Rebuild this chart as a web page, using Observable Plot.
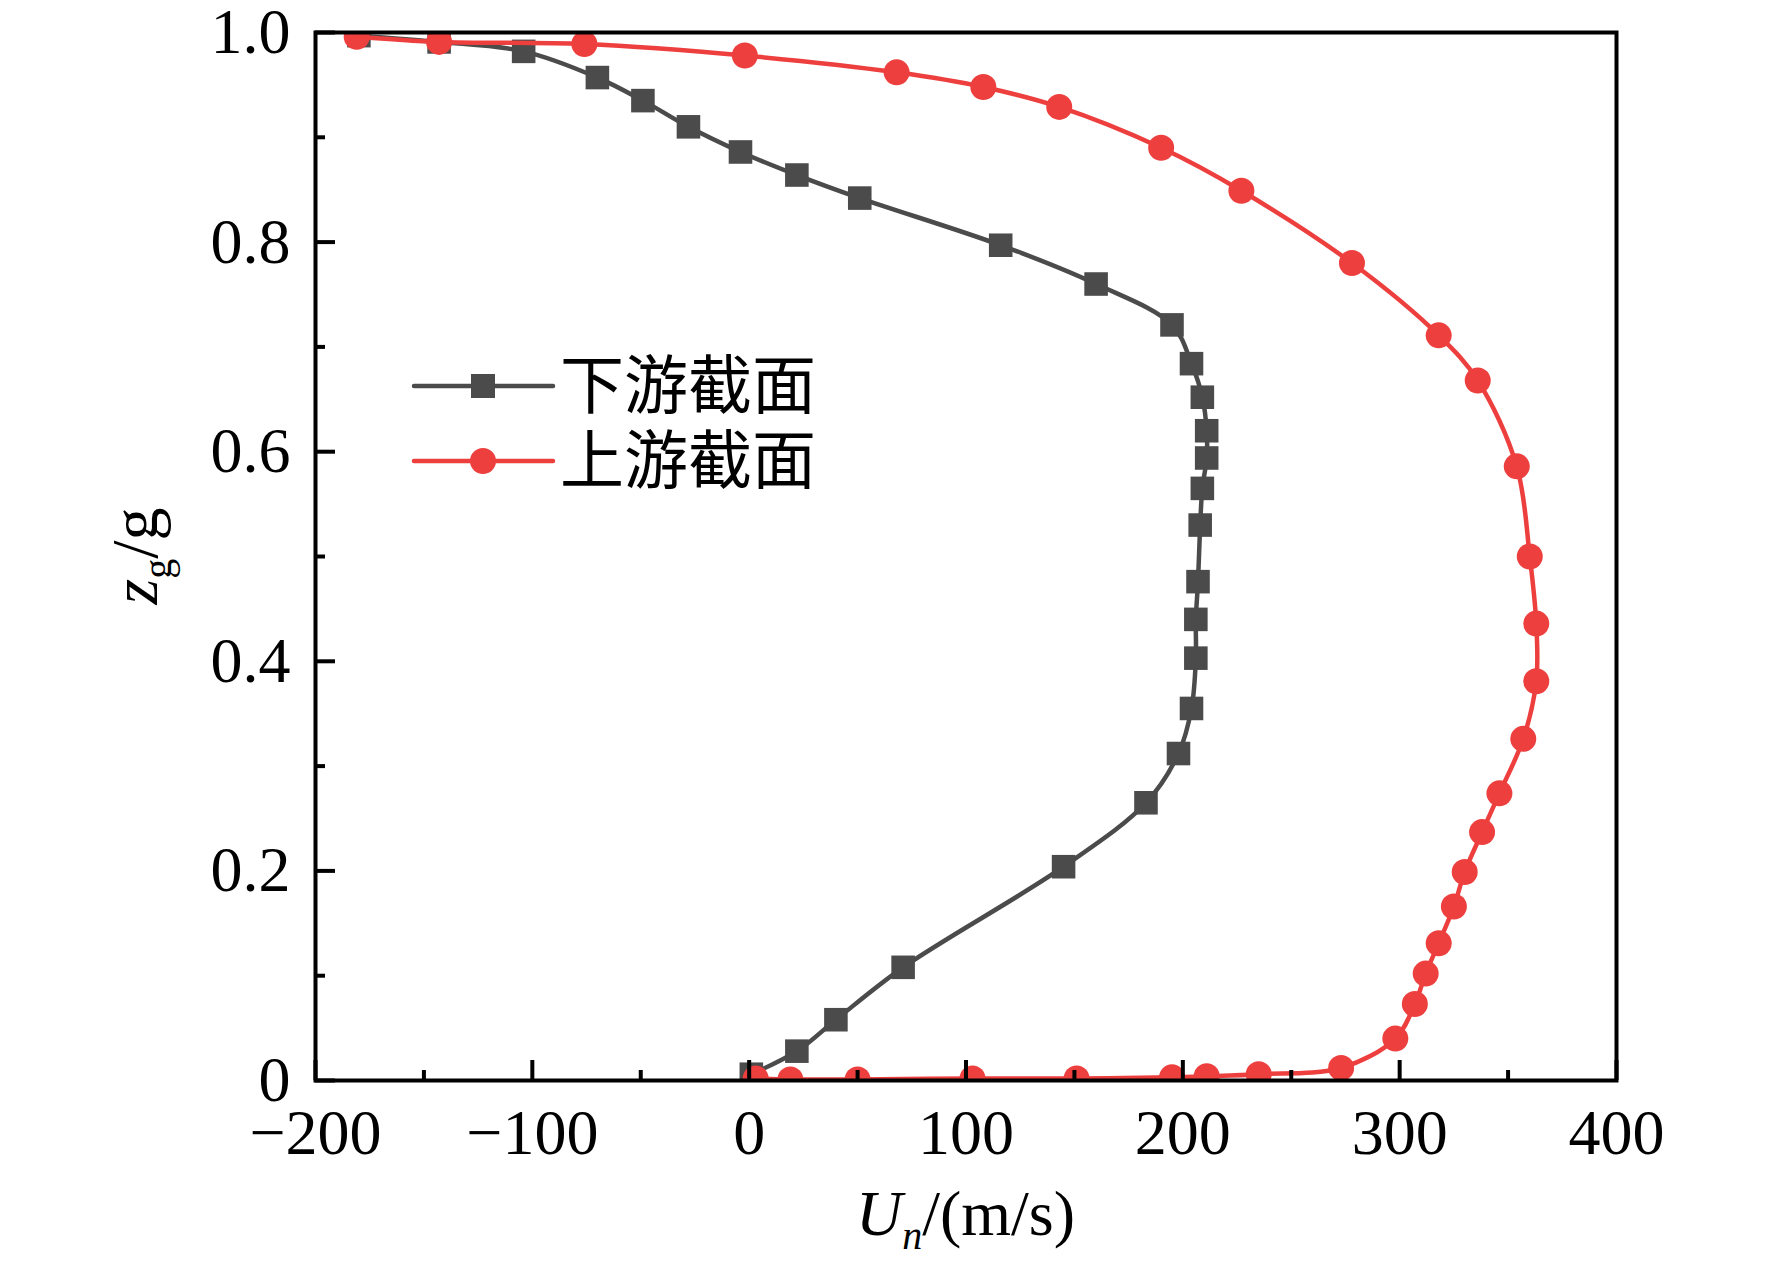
<!DOCTYPE html>
<html><head><meta charset="utf-8">
<script src="https://cdn.jsdelivr.net/npm/d3@7"></script>
<script src="https://cdn.jsdelivr.net/npm/@observablehq/plot@0.6"></script>
<style>html,body{margin:0;padding:0;background:#fff;overflow:hidden}</style>
</head><body><div id="chart"></div>
<script>
// ---- data ----
const seriesNames = ["下游截面", "上游截面"];
const seriesColors = ["#4b4b4b", "#ee3f3f"];

// 下游截面 (squares)
const downU = [-180, -143, -104, -70, -49, -28, -4, 22, 51, 116, 160, 195, 204, 209, 211, 211, 209, 208, 207, 206, 206, 204, 198, 183, 145, 71, 40, 22, 1];
const downZ = [0.997, 0.991, 0.982, 0.957, 0.935, 0.910, 0.886, 0.864, 0.842, 0.797, 0.760, 0.721, 0.684, 0.652, 0.620, 0.594, 0.565, 0.530, 0.476, 0.440, 0.403, 0.355, 0.312, 0.265, 0.204, 0.108, 0.058, 0.028, 0.006];

// 上游截面 (circles)
const upU = [-181, -143, -76, -2, 68, 108, 143, 190, 227, 278, 318, 336, 354, 360, 363, 363, 357, 346, 338, 330, 325, 318, 312, 307, 298, 273, 235, 211, 195, 151, 103, 50, 19, 3];
const upZ = [0.996, 0.991, 0.989, 0.978, 0.962, 0.948, 0.929, 0.890, 0.849, 0.780, 0.711, 0.668, 0.586, 0.500, 0.436, 0.381, 0.326, 0.274, 0.237, 0.199, 0.166, 0.131, 0.102, 0.073, 0.040, 0.012, 0.006, 0.004, 0.003, 0.002, 0.002, 0.001, 0.001, 0.002];

const xDomain = [-200, 400];
const yDomain = [0, 1];
const xMajor = [-200, -100, 0, 100, 200, 300, 400];
const xMajorLabels = ["−200", "−100", "0", "100", "200", "300", "400"];
const xMinor = [-150, -50, 50, 150, 250, 350];
const yMajor = [0, 0.2, 0.4, 0.6, 0.8, 1.0];
const yMajorLabels = ["0", "0.2", "0.4", "0.6", "0.8", "1.0"];
const yMinor = [0.1, 0.3, 0.5, 0.7, 0.9];

const downRows = downU.map((u, i) => ({u, z: downZ[i]}));
const upRows = upU.map((u, i) => ({u, z: upZ[i]}));

// ---- layout ----
const W = 1772, H = 1268;
const mL = 315, mR = 156, mT = 32, mB = 188;
const FONT = "'Liberation Serif', 'Times New Roman', 'Noto Sans CJK SC', serif";

const plot = Plot.plot({
  width: W, height: H,
  marginLeft: mL, marginRight: mR, marginTop: mT, marginBottom: mB,
  style: {fontFamily: FONT, fontSize: "64px", background: "#fff", color: "#000", overflow: "visible"},
  x: {domain: xDomain, label: null},
  y: {domain: yDomain, label: null},
  marks: [
    Plot.line(downRows, {x: "u", y: "z", stroke: seriesColors[0], strokeWidth: 4.5, curve: "catmull-rom", clip: true}),
    Plot.dot(downRows, {x: "u", y: "z", symbol: "square", r: 13.3, fill: seriesColors[0], stroke: "none", clip: true}),
    Plot.line(upRows, {x: "u", y: "z", stroke: seriesColors[1], strokeWidth: 4.5, curve: "catmull-rom", clip: true}),
    Plot.dot(upRows, {x: "u", y: "z", symbol: "circle", r: 13, fill: seriesColors[1], stroke: "none", clip: true}),
    Plot.axisX({ticks: xMajor, tickSize: -20, tickPadding: 48, strokeWidth: 4, fontSize: 64, label: null,
      tickFormat: d => xMajorLabels[xMajor.indexOf(d)]}),
    Plot.axisX({ticks: xMinor, tickSize: -10, tickPadding: 0, strokeWidth: 4, label: null, tickFormat: () => ""}),
    Plot.axisY({ticks: yMajor, tickSize: -20, tickPadding: 45, strokeWidth: 4, fontSize: 64, label: null,
      tickFormat: d => yMajorLabels[yMajor.findIndex(v => Math.abs(v - d) < 1e-9)]}),
    Plot.axisY({ticks: yMinor, tickSize: -10, tickPadding: 0, strokeWidth: 4, label: null, tickFormat: () => ""}),
    Plot.frame({stroke: "#000", strokeWidth: 4})
  ]
});
document.getElementById("chart").appendChild(plot);

// ---- legend and axis titles ----
const svg = d3.select(plot);
const leg = svg.append("g").attr("font-family", FONT).attr("font-size", 64).attr("text-anchor", "start");
const legY = [386, 461];
seriesNames.forEach((name, i) => {
  const y = legY[i];
  leg.append("line").attr("x1", 414).attr("x2", 553).attr("y1", y).attr("y2", y)
    .attr("stroke", seriesColors[i]).attr("stroke-width", 4.5).attr("stroke-linecap", "round");
  if (i === 0) {
    leg.append("rect").attr("x", 483 - 12).attr("y", y - 12).attr("width", 24).attr("height", 24)
      .attr("fill", seriesColors[i]);
  } else {
    leg.append("circle").attr("cx", 483).attr("cy", y).attr("r", 13).attr("fill", seriesColors[i]);
  }
  leg.append("text").attr("x", 560).attr("y", y).attr("dominant-baseline", "central")
    .attr("text-anchor", "start").attr("fill", "#000").text(name);
});

const xt = svg.append("text").attr("font-family", FONT).attr("font-size", 64)
  .attr("text-anchor", "middle").attr("x", mL + (W - mL - mR) / 2).attr("y", 1235).attr("fill", "#000");
xt.append("tspan").attr("font-style", "italic").text("U");
xt.append("tspan").attr("font-style", "italic").attr("font-size", 40).attr("dy", 14).text("n");
xt.append("tspan").attr("dy", -14).text("/(m/s)");

const yt = svg.append("text").attr("font-family", FONT).attr("font-size", 66)
  .attr("text-anchor", "middle").attr("fill", "#000")
  .attr("transform", `translate(157,${mT + (H - mT - mB) / 2}) rotate(-90)`);
yt.append("tspan").attr("font-style", "italic").text("z");
yt.append("tspan").attr("font-size", 40).attr("dy", 14).text("g");
yt.append("tspan").attr("dy", -14).text("/g");
</script>
</body></html>
